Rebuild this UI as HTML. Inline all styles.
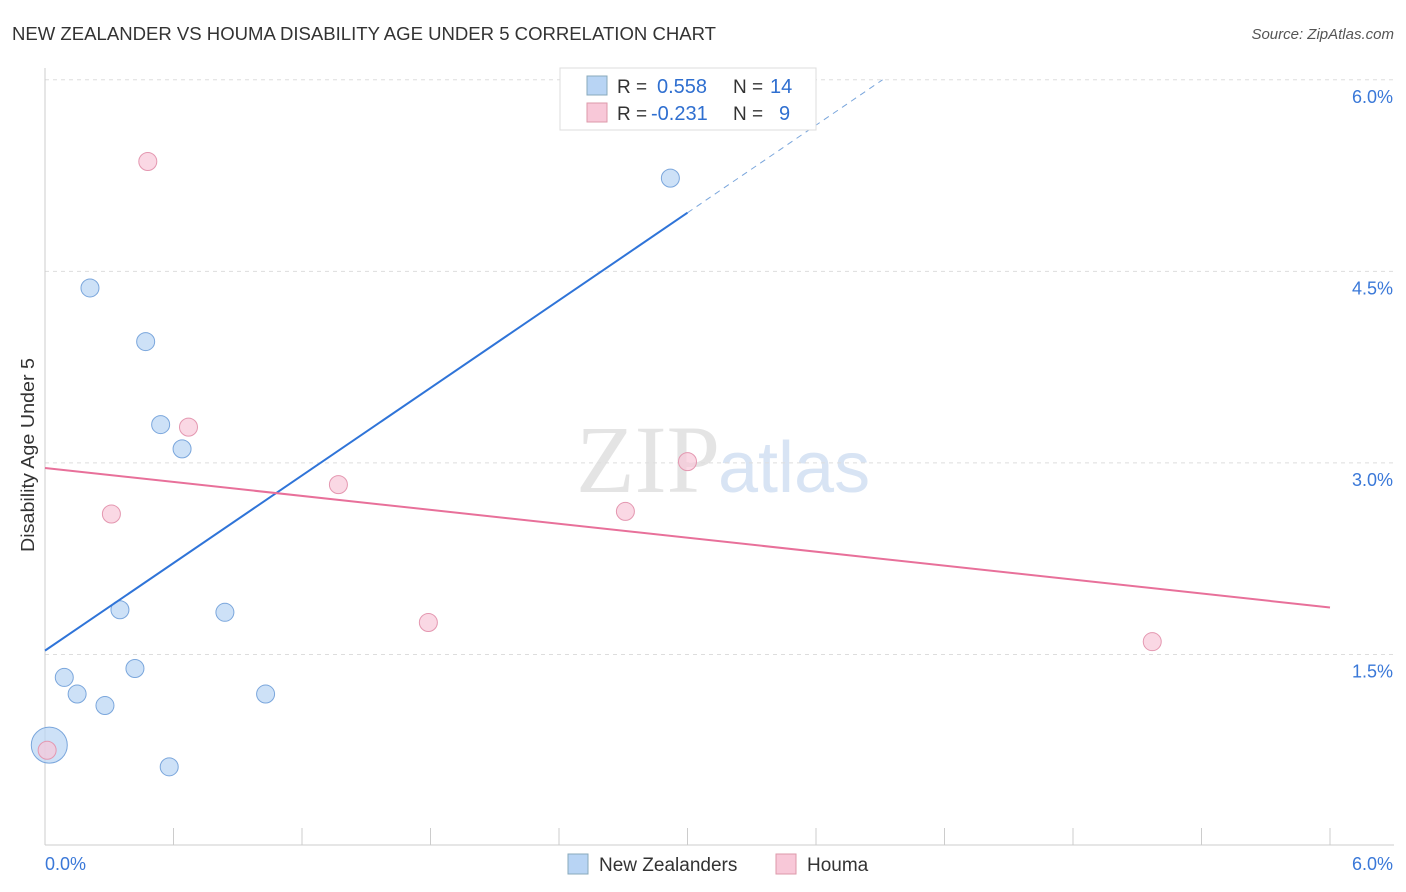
<!DOCTYPE html>
<html><head><meta charset="utf-8">
<style>
body{margin:0;background:#fff;font-family:"Liberation Sans",sans-serif;}
svg{display:block}
</style></head>
<body>
<svg id="chart" width="1406" height="892">
<text x="12" y="40" font-size="18" fill="#333" textLength="704" lengthAdjust="spacingAndGlyphs">NEW ZEALANDER VS HOUMA DISABILITY AGE UNDER 5 CORRELATION CHART</text>
<text x="1394" y="39" font-size="15" fill="#555" font-style="italic" text-anchor="end">Source: ZipAtlas.com</text>
<text x="720" y="492" font-size="96" fill="#e4e4e4" font-family="Liberation Serif,serif" text-anchor="end">ZIP</text>
<text x="718" y="492" font-size="72" fill="#d8e4f4">atlas</text>
<text x="34" y="455" font-size="18" fill="#333" text-anchor="middle" textLength="194" lengthAdjust="spacingAndGlyphs" transform="rotate(-90 34 455)">Disability Age Under 5</text>
<g id="grid"></g>
<g id="marks"></g>
<g>
<rect x="560" y="68" width="256" height="62" fill="#fff" stroke="#ddd"/>
<rect x="587" y="76" width="20" height="19" fill="#b8d4f4" stroke="#8ab"/>
<text x="617" y="93" font-size="19" fill="#333">R = </text><text x="657" y="93" font-size="20" fill="#2f6fd0">0.558</text>
<text x="733" y="93" font-size="19" fill="#333">N = </text><text x="770" y="93" font-size="20" fill="#2f6fd0">14</text>
<rect x="587" y="103" width="20" height="19" fill="#f8c8d8" stroke="#d9a"/>
<text x="617" y="120" font-size="19" fill="#333">R = </text><text x="651" y="120" font-size="20" fill="#2f6fd0">-0.231</text>
<text x="733" y="120" font-size="19" fill="#333">N = </text><text x="779" y="120" font-size="20" fill="#2f6fd0">9</text>
</g>
<g>
<rect x="568" y="854" width="20" height="20" fill="#b8d4f4" stroke="#8ab"/>
<text x="599" y="871" font-size="19" fill="#333">New Zealanders</text>
<rect x="776" y="854" width="20" height="20" fill="#f8c8d8" stroke="#d9a"/>
<text x="807" y="871" font-size="19" fill="#333">Houma</text>
</g>
</svg>
<script>
const yTicks=[1.5,3.0,4.5,6.0];
const blueX=[0.21,0.47,0.54,0.64,0.35,0.84,0.09,0.15,0.28,0.42,1.03,0.58,2.92,0.02];
const blueY=[4.37,3.95,3.30,3.11,1.85,1.83,1.32,1.19,1.10,1.39,1.19,0.62,5.23,0.79];
const blueR=[9,9,9,9,9,9,9,9,9,9,9,9,9,18];
const pinkX=[0.48,0.67,0.31,1.37,1.79,2.71,3.0,5.17,0.01];
const pinkY=[5.36,3.28,2.60,2.83,1.75,2.62,3.01,1.60,0.75];
const blueLine=[1.53,1.143];
const pinkLine=[2.96,-0.182];
const NS="http://www.w3.org/2000/svg";
const sx=v=>45+v/6*1285, sy=v=>846-v*127.7;
function mk(t,a,p){const e=document.createElementNS(NS,t);for(const k in a)e.setAttribute(k,a[k]);p.appendChild(e);return e;}
const g=document.getElementById('grid'),m=document.getElementById('marks');
yTicks.forEach(t=>{
 const l=mk('line',{x1:45,x2:1394,y1:sy(t),y2:sy(t),stroke:'#ddd','stroke-dasharray':'4,4'},g);
 
 
 const tx=mk('text',{x:1393,y:sy(t)+23,'font-size':18,fill:'#3a78d8','text-anchor':'end'},g);tx.textContent=t.toFixed(1)+'%';
 
 
});
const ax=mk('line',{x1:45,x2:1394,y1:845,y2:845,stroke:'#ccc'},g);


const ay=mk('line',{x1:45,x2:45,y1:68,y2:845,stroke:'#ccc'},g);


for(let i=1;i<=10;i++){const t=mk('line',{x1:45+i*128.5,x2:45+i*128.5,y1:828,y2:845,stroke:'#ccc'},g);
 
 }
[['0.0%',45,'start'],['6.0%',1393,'end']].forEach(([s,x,a])=>{const t=mk('text',{x:x,y:870,'font-size':18,fill:'#3a78d8','text-anchor':a},g);t.textContent=s;
 
 });
blueX.forEach((x,i)=>{const c=mk('circle',{cx:sx(x),cy:sy(blueY[i]),r:blueR[i],fill:'#b8d4f4','fill-opacity':0.7,stroke:'#7aa6dc'},m);
 
 });
pinkX.forEach((x,i)=>{const c=mk('circle',{cx:sx(x),cy:sy(pinkY[i]),r:9,fill:'#f8c8d8','fill-opacity':0.7,stroke:'#e497b0'},m);
 
 });
const bf=x=>blueLine[0]+blueLine[1]*x, pf=x=>pinkLine[0]+pinkLine[1]*x;
const xe=3.0, xd=(6.0-blueLine[0])/blueLine[1];
const b1=mk('line',{x1:sx(0),y1:sy(bf(0)),x2:sx(xe),y2:sy(bf(xe)),stroke:'#2f74d8','stroke-width':2},m);


const b2=mk('line',{x1:sx(xe),y1:sy(bf(xe)),x2:sx(xd),y2:sy(bf(xd)),stroke:'#7aa6dc','stroke-width':1,'stroke-dasharray':'6,5'},m);


const p1=mk('line',{x1:sx(0),y1:sy(pf(0)),x2:sx(6),y2:sy(pf(6)),stroke:'#e8709a','stroke-width':2},m);


</script>
</body></html>
